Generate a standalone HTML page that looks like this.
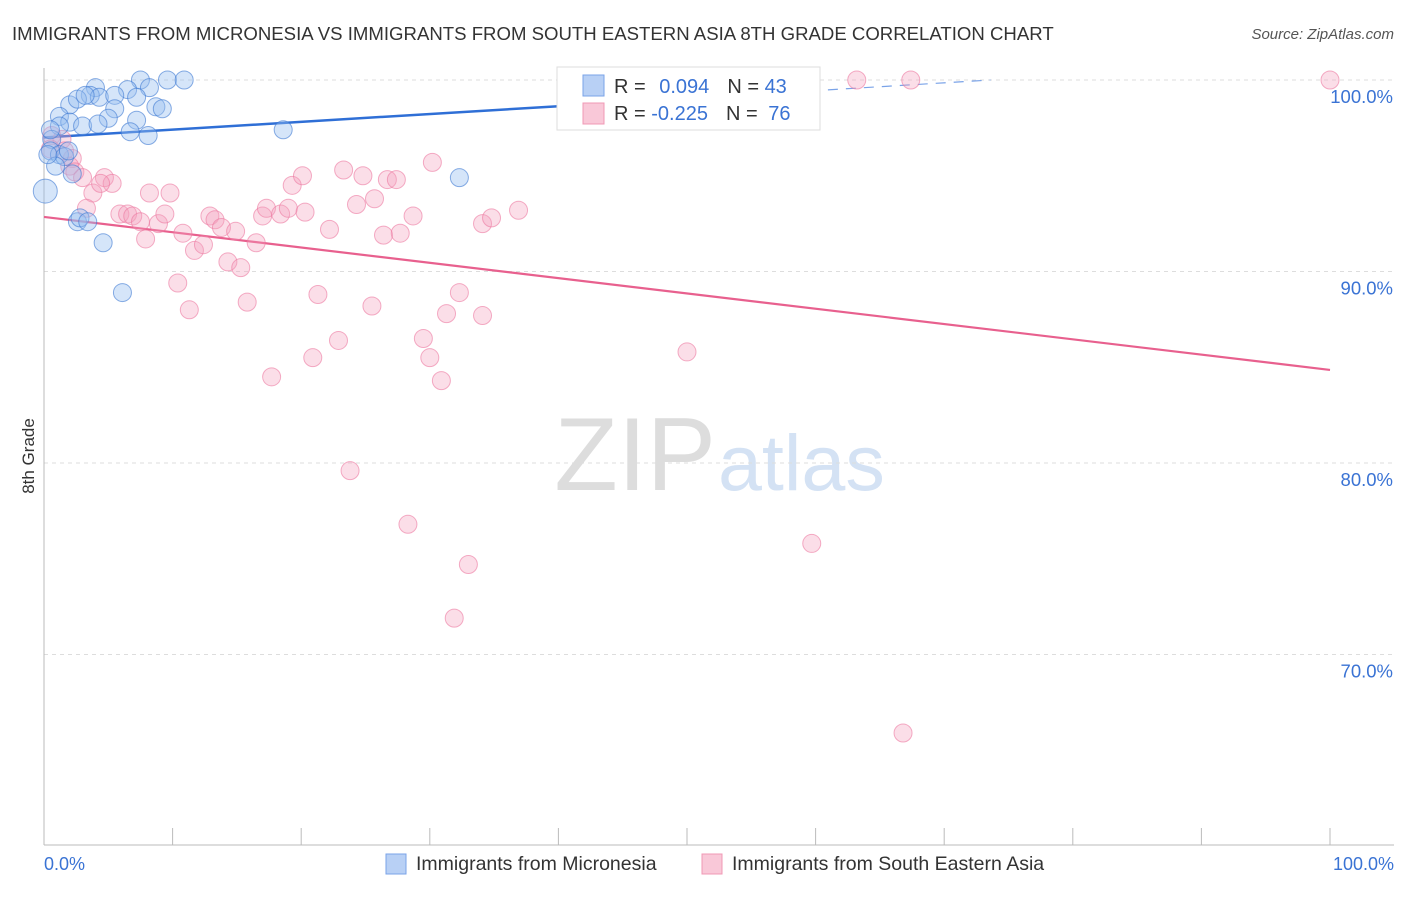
<!DOCTYPE html>
<html><head><meta charset="utf-8"><style>
body{margin:0;background:#fff;font-family:"Liberation Sans",sans-serif}
svg text{font-family:"Liberation Sans",sans-serif}
</style></head><body>
<svg width="1406" height="892">
<text x="12" y="40" font-size="18.6" fill="#333">IMMIGRANTS FROM MICRONESIA VS IMMIGRANTS FROM SOUTH EASTERN ASIA 8TH GRADE CORRELATION CHART</text>
<text x="1394" y="39" font-size="15" fill="#555" text-anchor="end" font-style="italic">Source: ZipAtlas.com</text>
<text x="716" y="490" font-size="104" fill="#ddd" text-anchor="end" font-family="Liberation Serif">ZIP</text>
<text x="718" y="490" font-size="79" fill="#d4e2f4">atlas</text>
<g id="grid"></g><g id="axes"></g><g id="trend"></g><g id="pts"></g>
<text transform="translate(34,456) rotate(-90)" font-size="17" fill="#333" text-anchor="middle">8th Grade</text>
<text x="44" y="870" font-size="18" fill="#3a73d4">0.0%</text>
<text x="1394" y="870" font-size="18" fill="#3a73d4" text-anchor="end">100.0%</text>
<g>
<rect x="557" y="67" width="263" height="63" fill="#fff" stroke="#ddd"/>
<rect x="583" y="75" width="21" height="21" fill="#b8d0f5" stroke="#7aa3e8"/>
<rect x="583" y="103" width="21" height="21" fill="#f9c8d8" stroke="#f098b5"/>
<text x="614" y="93" font-size="20" fill="#333">R = <tspan fill="#3a73d4" dx="8">0.094</tspan><tspan dx="18" fill="#333">N = </tspan><tspan fill="#3a73d4">43</tspan></text>
<text x="614" y="120" font-size="20" fill="#333">R = <tspan fill="#3a73d4">-0.225</tspan><tspan dx="18" fill="#333">N = </tspan><tspan fill="#3a73d4" dx="5">76</tspan></text>
</g>
<g><rect x="386" y="854" width="20" height="20" fill="#b8d0f5" stroke="#7aa3e8"/><text x="416" y="870" font-size="19.5" fill="#333">Immigrants from Micronesia</text></g>
<g><rect x="702" y="854" width="20" height="20" fill="#f9c8d8" stroke="#f098b5"/><text x="732" y="870" font-size="19.5" fill="#333">Immigrants from South Eastern Asia</text></g>
</svg>
<script>
const yTicks=[100,90,80,70];
const xTicks=[0,10,20,30,40,50,60,70,80,90,100];
const blueX=[7.5,9.6,10.9,4.0,6.5,8.2,3.6,4.3,5.5,7.2,2.0,2.6,8.7,9.2,5.5,1.2,5.0,7.2,2.0,3.0,4.2,1.2,6.7,8.1,18.6,0.6,0.5,1.2,1.6,0.9,2.2,0.1,2.6,2.8,3.4,4.6,6.1,32.3,42.8,0.3,1.9,0.5,3.2];
const blueY=[100,100,100,99.6,99.5,99.6,99.2,99.1,99.2,99.1,98.7,99.0,98.6,98.5,98.5,98.1,98.0,97.9,97.8,97.6,97.7,97.6,97.3,97.1,97.4,96.9,96.3,96.1,96.0,95.5,95.1,94.2,92.6,92.8,92.6,91.5,88.9,94.9,99.9,96.1,96.3,97.4,99.2];
const pinkX=[63.2,67.4,100,0.6,1.4,0.5,1.6,2.2,2.0,2.4,3.0,3.8,3.3,4.7,5.3,4.4,8.2,9.8,5.9,6.5,6.9,7.5,7.9,8.9,9.4,10.8,11.7,12.4,12.9,13.3,13.8,14.9,14.3,15.3,16.5,15.8,10.4,11.3,17.0,17.3,18.4,19.0,19.3,20.1,20.3,17.7,20.9,21.3,22.2,22.9,23.3,24.3,24.8,25.7,25.5,26.4,26.7,27.4,27.7,28.7,30.2,29.5,30.0,30.9,31.3,32.3,34.1,34.8,36.9,34.1,50.0,23.8,28.3,33.0,31.9,59.7,66.8];
const pinkY=[100,100,100,97.1,96.9,96.4,96.3,95.9,95.5,95.2,94.9,94.1,93.3,94.9,94.6,94.6,94.1,94.1,93.0,93.0,92.9,92.6,91.7,92.5,93.0,92.0,91.1,91.4,92.9,92.7,92.3,92.1,90.5,90.2,91.5,88.4,89.4,88.0,92.9,93.3,93.0,93.3,94.5,95.0,93.1,84.5,85.5,88.8,92.2,86.4,95.3,93.5,95.0,93.8,88.2,91.9,94.8,94.8,92.0,92.9,95.7,86.5,85.5,84.3,87.8,88.9,92.5,92.8,93.2,87.7,85.8,79.6,76.8,74.7,71.9,75.8,65.9];
const blueTrend=[97.0,100.0], blueTrendX=[0,73.6];
const pinkTrend=[92.85,84.86], pinkTrendX=[0,100];
const NS='http://www.w3.org/2000/svg';
const xs=p=>44+p*12.86, ys=v=>80+(100-v)*19.15;
function mk(t,a,parent){const e=document.createElementNS(NS,t);for(const k in a)e.setAttribute(k,a[k]);document.getElementById(parent).appendChild(e);return e;}
yTicks.forEach(v=>{
 const l=mk('line',{x1:44,x2:1394,y1:ys(v),y2:ys(v),stroke:'#ddd','stroke-dasharray':'4,4'},'grid');
 
 
 const t=mk('text',{x:1393,y:ys(v)+23,'font-size':18.5,fill:'#3a73d4','text-anchor':'end'},'grid');
 t.textContent=v.toFixed(1)+'%';
 
 
});
let ax=mk('line',{x1:44,x2:44,y1:68,y2:845,stroke:'#bbb'},'axes');


ax=mk('line',{x1:44,x2:1394,y1:845,y2:845,stroke:'#bbb'},'axes');


xTicks.forEach(p=>{
 const l=mk('line',{x1:xs(p),x2:xs(p),y1:828,y2:845,stroke:'#bbb'},'axes');
 
 
});
let bx1=blueTrendX[0],bx2=blueTrendX[1],by=x=>blueTrend[0]+(blueTrend[1]-blueTrend[0])*(x-bx1)/(bx2-bx1);
let tl=mk('line',{x1:xs(bx1),y1:ys(by(bx1)),x2:xs(40),y2:ys(by(40)),stroke:'#2f6fd6','stroke-width':2.5},'trend');


tl=mk('line',{x1:xs(40),y1:ys(by(40)),x2:xs(bx2),y2:ys(by(bx2)),stroke:'#7aa3e8','stroke-width':1.2,'stroke-dasharray':'10,8'},'trend');


tl=mk('line',{x1:xs(pinkTrendX[0]),y1:ys(pinkTrend[0]),x2:xs(pinkTrendX[1]),y2:ys(pinkTrend[1]),stroke:'#e8608e','stroke-width':2.2},'trend');


pinkX.forEach((x,i)=>{
 const c=mk('circle',{cx:xs(x),cy:ys(pinkY[i]),r:9,fill:'rgba(244,160,190,0.35)',stroke:'rgba(236,120,160,0.6)','stroke-width':1},'pts');
 
 
});
blueX.forEach((x,i)=>{
 const c=mk('circle',{cx:xs(x),cy:ys(blueY[i]),r:(x<0.2?12:9),fill:'rgba(150,190,240,0.4)',stroke:'rgba(60,120,210,0.6)','stroke-width':1},'pts');
 
 
});
</script>
</body></html>
